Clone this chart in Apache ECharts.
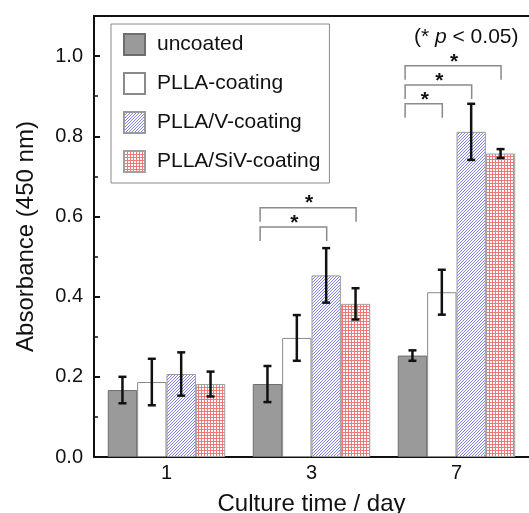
<!DOCTYPE html>
<html>
<head>
<meta charset="utf-8">
<script src="https://cdn.jsdelivr.net/npm/echarts@6/dist/echarts.min.js"></script>
<style>
  html, body { margin: 0; padding: 0; background: #fff; }
  #chart { width: 529px; height: 513px; }
</style>
</head>
<body>
<div id="chart"></div>
<script>
// culture days (x categories)
const days = ['1', '3', '7'];
const seriesNames = ['uncoated', 'PLLA-coating', 'PLLA/V-coating', 'PLLA/SiV-coating'];

// mean absorbance and error
const uncoated = [0.167, 0.182, 0.253];
const uncoatedErr = [0.033, 0.045, 0.013];
const plla = [0.187, 0.297, 0.411];
const pllaErr = [0.058, 0.057, 0.056];
const pllaV = [0.207, 0.453, 0.811];
const pllaVErr = [0.054, 0.068, 0.070];
const pllaSiV = [0.182, 0.382, 0.757];
const pllaSiVErr = [0.031, 0.039, 0.011];

// significance brackets: [day index, from bar, to bar, bracket height]
const brackets = [
    [1, 0, 2, 0.574],
    [1, 0, 3, 0.622],
    [2, 0, 1, 0.881],
    [2, 0, 2, 0.928],
    [2, 0, 3, 0.976]
];

const yTicks = [0, 0.2, 0.4, 0.6, 0.8, 1.0];

const FONT = "'Liberation Sans', Arial, sans-serif";
const GAP = 0.19; // barCategoryGap

// small canvas patterns for the hatched bars
function makePattern(size, color, test) {
    const c = document.createElement('canvas');
    c.width = size; c.height = size;
    const ctx = c.getContext('2d');
    const img = ctx.createImageData(size, size);
    const r = parseInt(color.slice(1, 3), 16), g = parseInt(color.slice(3, 5), 16), b = parseInt(color.slice(5, 7), 16);
    for (let y = 0; y < size; y++) {
        for (let x = 0; x < size; x++) {
            const k = (y * size + x) * 4;
            const on = test(x, y);
            img.data[k] = on ? r : 255;
            img.data[k + 1] = on ? g : 255;
            img.data[k + 2] = on ? b : 255;
            img.data[k + 3] = 255;
        }
    }
    ctx.putImageData(img, 0, 0);
    return { image: c, repeat: 'repeat' };
}

const hatchBlue = makePattern(3, '#8080ea', (x, y) => (x + y) % 3 === 0);
const checkRed = makePattern(3, '#f07878', (x, y) => x % 3 === 0 || y % 3 === 0);

const barStyles = [
    { color: '#9a9a9a', borderColor: '#6e6e6e', borderWidth: 1 },
    { color: '#ffffff', borderColor: '#8a8a8a', borderWidth: 1 },
    { color: hatchBlue, borderColor: '#9a9a9a', borderWidth: 1 },
    { color: checkRed, borderColor: '#a0a0a0', borderWidth: 1 }
];

const values = [uncoated, plla, pllaV, pllaSiV];
const errors = [uncoatedErr, pllaErr, pllaVErr, pllaSiVErr];

function barCenter(api, dayIdx, barIdx) {
    const c = api.coord([dayIdx, 0]);
    const bw = api.size([1, 0])[0];
    const w = bw * (1 - GAP) / 4;
    return c[0] + (barIdx - 1.5) * w;
}

function errorRenderer(barIdx) {
    return function (params, api) {
        const i = api.value(0);
        const v = api.value(1);
        const e = api.value(2);
        const x = barCenter(api, i, barIdx);
        const top = api.coord([i, v + e])[1];
        const bot = api.coord([i, v - e])[1];
        const cap = 4;
        const style = { stroke: '#111', lineWidth: 2.5 };
        return {
            type: 'group',
            children: [
                { type: 'line', shape: { x1: x, y1: top, x2: x, y2: bot }, style },
                { type: 'line', shape: { x1: x - cap, y1: top, x2: x + cap, y2: top }, style },
                { type: 'line', shape: { x1: x - cap, y1: bot, x2: x + cap, y2: bot }, style }
            ]
        };
    };
}

function bracketRenderer(params, api) {
    const i = api.value(0);
    const from = api.value(1);
    const to = api.value(2);
    const h = api.value(3);
    const bw = api.size([1, 0])[0] * (1 - GAP) / 4;
    const x1 = barCenter(api, i, from) - bw * 0.25;
    const x2 = barCenter(api, i, to) + 0.5;
    const y = api.coord([i, h])[1];
    const yLeg = api.coord([i, h - 0.035])[1];
    const ls = { stroke: '#8a8a8a', lineWidth: 1.5 };
    return {
        type: 'group',
        children: [
            { type: 'polyline', shape: { points: [[x1, yLeg], [x1, y], [x2, y], [x2, yLeg]] }, style: Object.assign({ fill: null }, ls) },
            { type: 'text', x: (x1 + x2) / 2 + 1, y: y - 4, style: { text: '*', font: 'bold 21px ' + FONT, fill: '#111', align: 'center', verticalAlign: 'middle' } }
        ]
    };
}

const chart = echarts.init(document.getElementById('chart'));

const series = [];
seriesNames.forEach((name, k) => {
    series.push({
        name: name,
        type: 'bar',
        data: values[k],
        barGap: 0,
        barCategoryGap: (GAP * 100) + '%',
        itemStyle: barStyles[k],
        emphasis: { disabled: true },
        z: 2
    });
});
seriesNames.forEach((name, k) => {
    series.push({
        type: 'custom',
        renderItem: errorRenderer(k),
        data: days.map((d, i) => [i, values[k][i], errors[k][i]]),
        encode: { x: 0, y: 1 },
        z: 5,
        silent: true
    });
});
series.push({
    type: 'custom',
    renderItem: bracketRenderer,
    data: brackets,
    encode: { x: 0, y: 3 },
    z: 5,
    silent: true
});

chart.setOption({
    animation: false,
    textStyle: { fontFamily: FONT },
    title: {
        text: '{a|(* }{b|p}{a| < 0.05)}',
        left: 414,
        top: 27,
        padding: 0,
        textStyle: {
            rich: {
                a: { fontSize: 21, fontFamily: FONT, fontWeight: 'normal', color: '#111' },
                b: { fontSize: 21, fontFamily: FONT, fontStyle: 'italic', fontWeight: 'normal', color: '#111' }
            }
        }
    },
    legend: {
        data: seriesNames,
        orient: 'vertical',
        left: 111,
        top: 24,
        padding: [9, 9, 10, 12],
        itemGap: 16,
        itemWidth: 21,
        itemHeight: 21,
        icon: 'rect',
        borderColor: '#8a8a8a',
        borderWidth: 1,
        selectedMode: false,
        textStyle: { fontSize: 21, fontFamily: FONT, color: '#111', padding: [0, 0, 0, 7] }
    },
    grid: { left: 94, right: 0, top: 16, bottom: 56, containLabel: false, outerBoundsMode: 'none' },
    xAxis: [{
        type: 'category',
        data: days,
        name: 'Culture time / day',
        nameLocation: 'middle',
        nameGap: 35,
        nameTextStyle: { fontSize: 24, fontFamily: FONT, color: '#111' },
        axisLine: { lineStyle: { color: '#111', width: 2 } },
        axisTick: { show: false },
        axisLabel: { fontSize: 20, color: '#111', margin: 6, fontFamily: FONT },
        splitLine: { show: false }
    }, {
        type: 'category',
        data: days,
        position: 'top',
        axisLine: { onZero: false, lineStyle: { color: '#111', width: 2 } },
        axisTick: { show: false },
        axisLabel: { show: false },
        splitLine: { show: false }
    }],
    yAxis: {
        type: 'value',
        min: 0,
        max: 1.1,
        interval: 0.2,
        name: 'Absorbance (450 nm)',
        nameLocation: 'middle',
        nameGap: 56,
        nameTextStyle: { fontSize: 24, fontFamily: FONT, color: '#111' },
        axisLine: { show: true, lineStyle: { color: '#111', width: 2 } },
        axisTick: { show: true, inside: true, length: 6, lineStyle: { color: '#111', width: 2 } },
        minorTick: { show: true, splitNumber: 2, length: 4, lineStyle: { color: '#111', width: 1.5 } },
        axisLabel: {
            fontSize: 20,
            color: '#111',
            margin: 11,
            showMaxLabel: false,
            fontFamily: FONT,
            formatter: v => yTicks.some(t => Math.abs(t - v) < 1e-6) ? v.toFixed(1) : ''
        },
        splitLine: { show: false }
    },
    series: series
});
</script>
</body>
</html>
